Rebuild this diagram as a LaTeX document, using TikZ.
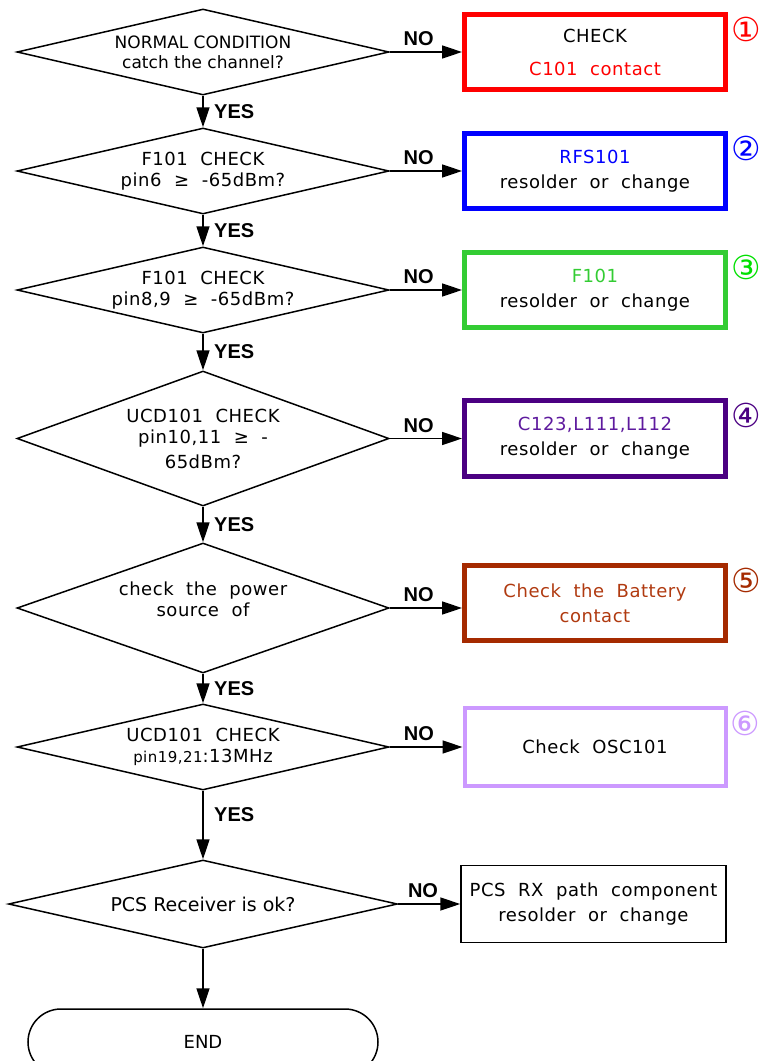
\documentclass[tikz,border=0pt]{standalone}
\usepackage{fontspec}
\setmainfont{DejaVu Sans}
\newfontfamily\widefont{DejaVu Sans}[WordSpace=2, LetterSpace=3]
\newfontfamily\answerfont{Liberation Sans}
\usetikzlibrary{positioning, arrows.meta, shapes.geometric}

\definecolor{ckred}{HTML}{FF0000}
\definecolor{ckblue}{HTML}{0000FF}
\definecolor{ckgreen}{HTML}{33CC33}
\definecolor{ckgreenmark}{HTML}{00E000}
\definecolor{ckpurple}{HTML}{4B0082}
\definecolor{ckpurpletext}{HTML}{5E1A9E}
\definecolor{ckbrown}{HTML}{A52A00}
\definecolor{ckbrowntext}{HTML}{B03A10}
\definecolor{cklilac}{HTML}{CC99FF}

\begin{document}
\begin{tikzpicture}[
    x=1pt, y=-1pt,
    decision/.style = {draw, diamond, line width=1.5pt, inner sep=0pt,
                       align=center, aspect=4.3,
                       minimum width=372pt, minimum height=86pt,
                       font=\widefont\fontsize{18}{21}\selectfont},
    fixbox/.style = {draw, rectangle, line width=5pt, align=center,
                     minimum width=261pt, minimum height=75pt,
                     font=\widefont\fontsize{18}{25}\selectfont},
    plainbox/.style = {fixbox, line width=1.5pt, minimum width=265pt,
                       minimum height=77pt},
    endcap/.style = {draw, rectangle, rounded corners=33pt, line width=1.5pt,
                     minimum width=350pt, minimum height=66pt,
                     font=\fontsize{18}{21}\selectfont},
    marker/.style = {anchor=north west, inner sep=0pt,
                     font=\fontsize{33}{33}\selectfont},
    arrow/.style = {-{Triangle[length=20pt, width=13pt]}, line width=1.7pt},
    answer/.style = {font=\answerfont\bfseries\fontsize{20}{20}\selectfont}
]
\useasboundingbox (0,0) rectangle (762,1061);
\coordinate (col) at (595,0);

% decisions
\node[decision, font=\fontsize{17}{20}\selectfont] (d1) at (203,52) {NORMAL CONDITION\\catch the channel?};
\node[decision, below=31.5pt of d1] (d2) {F101 CHECK\\pin6 ≥ -65dBm?};
\node[decision, below=31.5pt of d2] (d3) {F101 CHECK\\pin8,9 ≥ -65dBm?};
\node[decision, below=36.5pt of d3, aspect=2.75, minimum height=135pt] (d4) {UCD101 CHECK\\pin10,11 ≥ -\\[4pt]65dBm?};
\node[decision, below=35.5pt of d4, aspect=2.9, minimum height=130pt] (d5) {check the power\\source of\\[-4pt]\mbox{}};
\node[decision, below=29.5pt of d5] (d6) {UCD101 CHECK\\{\fontsize{15}{15}\selectfont pin19,21}:13MHz};
\node[decision, below=68.5pt of d6, aspect=4.4, minimum width=389pt, minimum height=88pt,
      font=\fontsize{19}{21}\selectfont] (d7) {PCS Receiver is ok?};
\node[endcap, below=59.5pt of d7] (end) {END};

% repairs
\node[fixbox, draw=ckred] (b1) at (d1 -| col) {CHECK\\[8pt]\textcolor{ckred}{C101 contact}};
\node[fixbox, draw=ckblue] (b2) at (d2 -| col) {\textcolor{ckblue}{RFS101}\\resolder or change};
\node[fixbox, draw=ckgreen] (b3) at (d3 -| col) {\textcolor{ckgreen}{F101}\\resolder or change};
\node[fixbox, draw=ckpurple, minimum height=76pt] (b4) at (d4 -| col) {\textcolor{ckpurpletext}{C123,L111,L112}\\resolder or change};
\node[fixbox, draw=ckbrown, text=ckbrowntext, yshift=5pt] (b5) at (d5 -| col) {Check the Battery\\contact};
\node[fixbox, draw=cklilac, line width=4pt, minimum height=78pt] (b6) at (d6 -| col) {Check OSC101};
\node[plainbox, xshift=-1.5pt] (b7) at (d7 -| col) {PCS RX path component\\resolder or change};

% step numbers
\node[marker, text=ckred] (n1) at ([xshift=3pt, yshift=-5pt]b1.north east) {①};
\node[marker, text=ckblue] (n2) at ([xshift=3pt, yshift=-5pt]b2.north east) {②};
\node[marker, text=ckgreenmark] (n3) at ([xshift=3pt, yshift=-5pt]b3.north east) {③};
\node[marker, text=ckpurple] (n4) at ([xshift=3pt, yshift=-5pt]b4.north east) {④};
\node[marker, text=ckbrown] (n5) at ([xshift=3pt, yshift=-5pt]b5.north east) {⑤};
\node[marker, text=cklilac] (n6) at ([xshift=3pt, yshift=-5pt]b6.north east) {⑥};

\draw[arrow] (d1) -- node[answer, right=7pt] {YES} (d2);
\draw[arrow] (d2) -- node[answer, right=7pt] {YES} (d3);
\draw[arrow] (d3) -- node[answer, right=7pt] {YES} (d4);
\draw[arrow] (d4) -- node[answer, right=7pt] {YES} (d5);
\draw[arrow] (d5) -- node[answer, right=7pt] {YES} (d6);
\draw[arrow] (d6) -- node[answer, right=7pt, pos=0.35] {YES} (d7);
\draw[arrow] (d7) -- (end);

\draw[arrow] (d1.east) -- node[answer, above=2pt, pos=0.4] {NO} (d1.east -| b1.west);
\draw[arrow] (d2.east) -- node[answer, above=2pt, pos=0.4] {NO} (d2.east -| b2.west);
\draw[arrow] (d3.east) -- node[answer, above=2pt, pos=0.4] {NO} (d3.east -| b3.west);
\draw[arrow] (d4.east) -- node[answer, above=2pt, pos=0.4] {NO} (d4.east -| b4.west);
\draw[arrow] (d5.east) -- node[answer, above=2pt, pos=0.4] {NO} (d5.east -| b5.west);
\draw[arrow] (d6.east) -- node[answer, above=2pt, pos=0.4] {NO} (d6.east -| b6.west);
\draw[arrow] (d7.east) -- node[answer, above=2pt, pos=0.4] {NO} (d7.east -| b7.west);

\end{tikzpicture}
\end{document}
